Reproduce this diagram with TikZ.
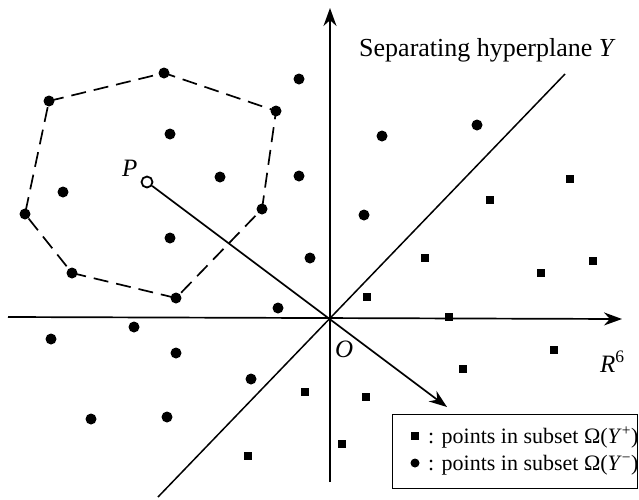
\documentclass[tikz,border=0pt]{standalone}
\usepackage{fontspec}
\setmainfont{Liberation Serif}
\usetikzlibrary{arrows.meta}

\begin{document}
\begin{tikzpicture}[x=1pt,y=-1pt,>={Stealth[length=18pt,width=13pt]},
  negdot/.style={circle,fill=black,inner sep=0pt,minimum size=11pt},
  possq/.style={rectangle,fill=black,inner sep=0pt,minimum size=8.5pt},
  lbl/.style={font=\fontsize{25}{30}\selectfont,inner sep=0pt}]
\useasboundingbox (0,0) rectangle (639,499);
% axes and hyperplane
\coordinate (O) at (330,318);
\coordinate (xl) at (8,317);
\coordinate (xr) at (622,319);
\coordinate (yb) at (330,482);
\coordinate (yt) at (330,8);
\coordinate (hu) at (565,74);
\coordinate (hd) at (158,497);
\draw[line width=1.7pt,->] (xl) -- (xr);
\draw[line width=1.7pt,->] (yb) -- (yt);
\draw[line width=1.5pt] (hd) -- (hu);
% points of Omega(Y-)
\foreach \x/\y/\n in {49/101/v1,164/73/v2,276/111/v3,262/209/v4,176/298/v5,72/273/v6,25/214/v7,
  170/134/c1,63/192/c2,220/177/c3,170/238/c4,299/79/c5,299/176/c6,310/258/c7,278/308/c8,
  382/136/c9,477/125/c10,364/215/c11,134/327/c12,51/339/c13,176/353/c14,251/379/c15,
  91/419/c16,167/417/c17}
  \node[negdot] (\n) at (\x,\y) {};
% points of Omega(Y+)
\foreach \x/\y/\n in {570/179/s1,490/200/s2,425/258/s3,541/273/s4,593/261/s5,367/297/s6,
  449/317/s7,554/350/s8,463/369/s9,305/392/s10,366/397/s11,342/444/s12,248/456/s13}
  \node[possq] (\n) at (\x,\y) {};
% neighbourhood of P
\draw[line width=1.7pt,dash pattern=on 15pt off 8pt]
  (v1.center) -- (v2.center) -- (v3.center) -- (v4.center) -- (v5.center)
  -- (v6.center) -- (v7.center) -- cycle;
% P and its direction
\node[circle,draw,line width=1.8pt,fill=white,inner sep=0pt,minimum size=11pt] (P) at (147,182) {};
\coordinate (tip) at (447,407);
\draw[line width=1.7pt,->] (P) -- (tip);
% labels
\node[lbl,anchor=base west] (Plbl) at (122,176) {\textit{P}};
\node[lbl,anchor=base west] (Olbl) at (335,357) {\textit{O}};
\node[lbl,anchor=base west] (Rlbl) at (600,372) {\textit{R}\textsuperscript{6}};
\node[anchor=base west,inner sep=0pt,font=\fontsize{26}{30}\selectfont] (title) at (359,56)
  {Separating hyperplane \textit{Y}};
% legend
\node[draw,line width=1pt,anchor=north west,minimum width=245pt,minimum height=74pt] (legend) at (392,414) {};
\node[possq,minimum size=7.5pt] (lpos) at (415,436) {};
\node[negdot,minimum size=9pt] (lneg) at (415,463) {};
\node[anchor=base west,inner sep=0pt,font=\fontsize{22}{26}\selectfont] (tpos) at (428,443)
  {: points in subset Ω(\textit{Y}\textsuperscript{+})};
\node[anchor=base west,inner sep=0pt,font=\fontsize{22}{26}\selectfont] (tneg) at (428,470)
  {: points in subset Ω(\textit{Y}\textsuperscript{−})};
\end{tikzpicture}
\end{document}
